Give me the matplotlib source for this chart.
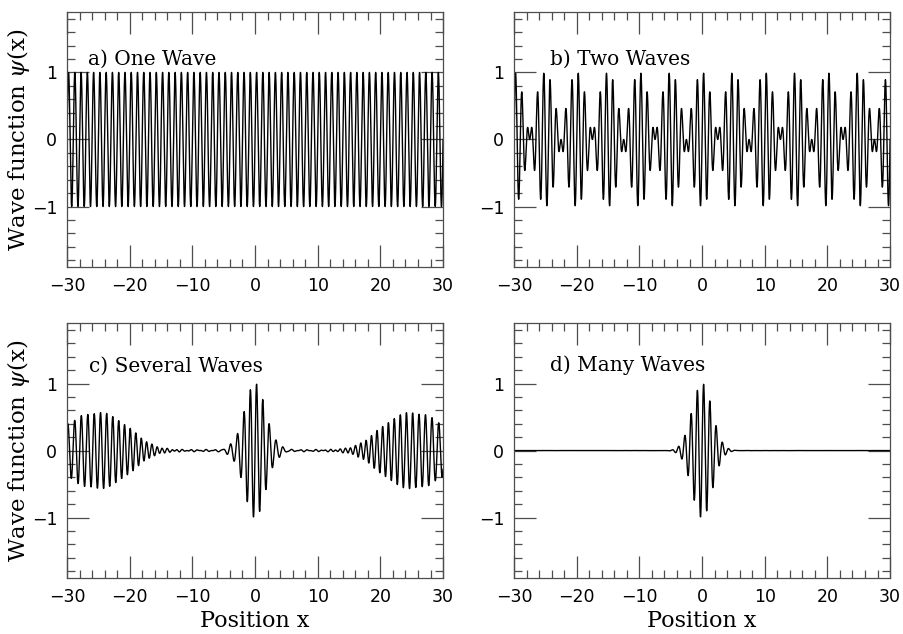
import numpy as np
import matplotlib
matplotlib.use("Agg")
import matplotlib.pyplot as plt
from matplotlib.ticker import MultipleLocator

plt.rcParams["font.family"] = "DejaVu Serif"
plt.rcParams["mathtext.fontset"] = "dejavuserif"

# wave components: spatial frequency (cycles per unit x) and amplitude
one_freq = [1.0]
one_amp = [1.0]

two_freq = [0.9, 1.1]
two_amp = [0.5, 0.5]

# several waves are given by wavelength
several_wavelength = [0.80, 0.84, 0.88, 0.92, 0.96, 1.00, 1.04, 1.08, 1.12, 1.16, 1.20]
several_amp = [0.135, 0.278, 0.487, 0.726, 0.923, 1.0, 0.923, 0.726, 0.487, 0.278, 0.135]

many_freq = [0.70, 0.72, 0.74, 0.76, 0.78, 0.80, 0.82, 0.84, 0.86, 0.88, 0.90,
             0.92, 0.94, 0.96, 0.98, 1.00, 1.02, 1.04, 1.06, 1.08, 1.10,
             1.12, 1.14, 1.16, 1.18, 1.20, 1.22, 1.24, 1.26, 1.28, 1.30]
many_amp = [0.011, 0.020, 0.034, 0.056, 0.089, 0.135, 0.197, 0.278, 0.375, 0.487, 0.607,
            0.726, 0.835, 0.923, 0.980, 1.000, 0.980, 0.923, 0.835, 0.726, 0.607,
            0.487, 0.375, 0.278, 0.197, 0.135, 0.089, 0.056, 0.034, 0.020, 0.011]

titles = ["a) One Wave", "b) Two Waves", "c) Several Waves", "d) Many Waves"]

x = np.linspace(-30, 30, 8001)


def superpose(freqs, amps):
    freqs = np.asarray(freqs)
    amps = np.asarray(amps)
    psi = (amps[:, None] * np.sin(2 * np.pi * freqs[:, None] * x[None, :])).sum(axis=0)
    return psi / amps.sum()


curves = [
    superpose(one_freq, one_amp),
    superpose(two_freq, two_amp),
    superpose(1.0 / np.asarray(several_wavelength), several_amp),
    superpose(many_freq, many_amp),
]

fig = plt.figure(figsize=(9.04, 6.34), dpi=100)
lefts = [0.0741, 0.5686]
bottoms = [0.579, 0.0883]
w, h = 0.416, 0.402
title_pos = [(-26.6, 1.12), (-24.3, 1.12), (-26.5, 1.18), (-24.3, 1.18)]

for i in range(4):
    row, col = divmod(i, 2)
    ax = fig.add_axes([lefts[col], bottoms[row], w, h])
    ax.plot(x, curves[i], color="black", lw=1.0)
    ax.set_xlim(-30, 30)
    ax.set_ylim(-1.9, 1.9)
    ax.xaxis.set_major_locator(MultipleLocator(10))
    ax.xaxis.set_minor_locator(MultipleLocator(2))
    ax.yaxis.set_major_locator(MultipleLocator(1))
    ax.yaxis.set_minor_locator(MultipleLocator(0.2))
    ax.tick_params(which="both", direction="in", top=True, right=True,
                   color="0.3", width=0.9)
    ax.tick_params(which="major", length=15.5, pad=7)
    ax.tick_params(which="minor", length=5.8)
    for lab in ax.get_xticklabels() + ax.get_yticklabels():
        lab.set_fontfamily("DejaVu Sans")
        lab.set_fontsize(12.5)
    for sp in ax.spines.values():
        sp.set_color("0.3")
        sp.set_linewidth(0.9)
    tx, ty = title_pos[i]
    ax.text(tx, ty, titles[i], fontsize=14.5, va="baseline")
    if col == 0:
        ax.set_ylabel(r"Wave function $\psi$(x)", fontsize=16.5, va="center")
        ax.yaxis.set_label_coords(-0.13, 0.5)
    if row == 1:
        ax.set_xlabel("Position x", fontsize=16, labelpad=3)

fig.savefig("out.png", dpi=100, facecolor="white")
